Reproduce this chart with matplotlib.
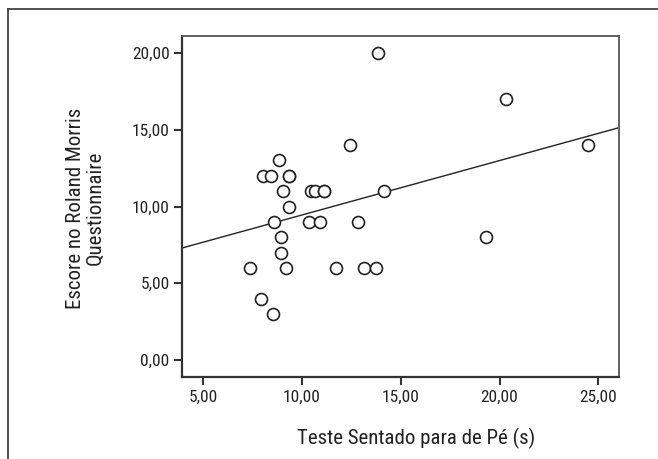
import matplotlib
matplotlib.use("Agg")
import matplotlib.pyplot as plt
from matplotlib.ticker import FuncFormatter
import numpy as np

plt.rcParams['font.family'] = ['Roboto Condensed', 'DejaVu Sans']

# tempo no teste sentado para de pé (s) e escore Roland Morris
tempo = [13.83, 12.42, 8.83, 8.00, 8.41, 9.32, 9.32, 9.02, 10.45, 10.65,
         11.11, 11.11, 14.14, 9.32, 8.58, 10.36, 10.92, 12.85, 8.93, 8.93,
         7.36, 9.20, 11.73, 13.13, 13.74, 7.92, 8.55, 20.35, 24.48, 19.31]
escore = [20, 14, 13, 12, 12, 12, 12, 11, 11, 11,
          11, 11, 11, 10, 9, 9, 9, 9, 8, 7,
          6, 6, 6, 6, 6, 4, 3, 17, 14, 8]

# reta de regressão
intercepto = 5.91
inclinacao = 0.354

x_ticks = [5, 10, 15, 20, 25]
y_ticks = [0, 5, 10, 15, 20]

fig = plt.figure(figsize=(6.58, 4.59), dpi=100)
ax = fig.add_axes([0.2766, 0.1786, 0.6641, 0.743])

ax.plot(tempo, escore, 'o', ms=8.6, mfc='white', mec='#222222', mew=1.2,
        zorder=3)

xlim = (3.92, 26.05)
xs = np.array(xlim)
ax.plot(xs, intercepto + inclinacao * xs, color='#222222', lw=1.0, zorder=2)

ax.set_xlim(xlim)
ax.set_ylim(-1.1, 21.1)
ax.set_xticks(x_ticks)
ax.set_yticks(y_ticks)
fmt = FuncFormatter(lambda v, p: ('%.2f' % v).replace('.', ','))
ax.xaxis.set_major_formatter(fmt)
ax.yaxis.set_major_formatter(fmt)
ax.tick_params(direction='out', length=6, width=1.5, color='#333333',
               labelsize=12.5, labelcolor='#222222', pad=3)

for s in ['left', 'bottom']:
    ax.spines[s].set_linewidth(1.6)
    ax.spines[s].set_color('#333333')
for s in ['top', 'right']:
    ax.spines[s].set_linewidth(1.3)
    ax.spines[s].set_color('#555555')

fig.text(416 / 658, 1 - 438 / 459, 'Teste Sentado para de Pé (s)',
         ha='center', va='center', fontsize=15, color='#222222')
fig.text(85 / 658, 1 - 208 / 459, 'Escore no Roland Morris\nQuestionnaire',
         ha='center', va='center', rotation=90, fontsize=15,
         color='#222222', linespacing=1.0)

# moldura externa (apenas topo e esquerda)
fig.add_artist(plt.Line2D([8 / 658, 1], [1 - 9 / 459, 1 - 9 / 459],
                          color='#333333', lw=1.2))
fig.add_artist(plt.Line2D([8 / 658, 8 / 658], [1 - 9 / 459, 0],
                          color='#333333', lw=1.2))

fig.savefig('out.png', dpi=100)
